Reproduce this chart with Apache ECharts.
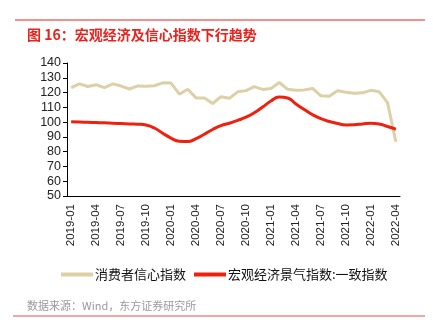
<!DOCTYPE html>
<html><head><meta charset="utf-8">
<script src="https://cdn.jsdelivr.net/npm/echarts@6/dist/echarts.min.js"></script>
<style>html,body{margin:0;padding:0;background:#fff}#c{width:433px;height:325px}</style>
</head><body><div id="c"></div>
<script>
const months = [
 '2019-01','2019-02','2019-03','2019-04','2019-05','2019-06','2019-07','2019-08','2019-09','2019-10','2019-11','2019-12',
 '2020-01','2020-02','2020-03','2020-04','2020-05','2020-06','2020-07','2020-08','2020-09','2020-10','2020-11','2020-12',
 '2021-01','2021-02','2021-03','2021-04','2021-05','2021-06','2021-07','2021-08','2021-09','2021-10','2021-11','2021-12',
 '2022-01','2022-02','2022-03','2022-04'];
const consumerConfidence = [
 123.3,125.9,124.1,125.3,123.3,125.9,124.4,122.4,124.5,124.3,124.6,126.6,
 126.4,118.9,122.2,116.4,116.4,112.6,117.2,116.1,120.5,121.3,124.0,122.1,
 122.8,126.8,122.2,121.5,121.8,122.8,117.8,117.5,121.2,120.2,119.5,119.8,
 121.5,120.5,113.2,86.7];
const coincidentIndex = [
 100.2,100.1,99.9,99.7,99.5,99.2,99.0,98.8,98.6,98.0,96.0,92.5,
 89.2,87.0,86.8,88.8,91.8,95.0,97.6,99.2,101.2,103.3,106.3,110.2,
 114.3,117.0,116.3,112.3,108.5,105.0,102.3,100.4,99.0,98.1,98.2,98.8,
 99.2,98.7,97.0,95.2];
const seriesNames = ['消费者信心指数','宏观经济景气指数:一致指数'];
const yTicks = {min:50, max:140, interval:10};

const chart = echarts.init(document.getElementById('c'));
const font = '"Liberation Sans", Arial, sans-serif';
const cjk = '"Noto Sans CJK SC", sans-serif';
chart.setOption({
  animation:false,
  title:[{
    text:'图 16：宏观经济及信心指数下行趋势', left:22, top:23,
    textStyle:{color:'#E8231E', fontSize:14, fontWeight:'bold', fontFamily:cjk}
  },{
    text:'数据来源：Wind，东方证券研究所', left:22, top:295,
    textStyle:{color:'#9a9a9a', fontSize:11, fontWeight:'normal', fontFamily:cjk}
  }],
  graphic:[
    {type:'line', shape:{x1:15,y1:20,x2:425,y2:20}, style:{stroke:'#E8231E', lineWidth:1}},
    {type:'line', shape:{x1:13,y1:316,x2:425,y2:316}, style:{stroke:'#EE8A86', lineWidth:1.5}}
  ],
  legend:{
    left:56, top:263, itemWidth:32, itemHeight:4, itemGap:8, icon:'rect',
    textStyle:{fontSize:13, color:'#111', fontFamily:cjk, padding:[0,0,0,-3]},
    data:seriesNames
  },
  grid:{left:67, right:33, top:63, bottom:129, containLabel:false},
  xAxis:{
    type:'category', data:months, boundaryGap:true,
    axisLine:{lineStyle:{color:'#000', width:1}},
    axisTick:{interval:2, length:4, lineStyle:{color:'#000'}},
    axisLabel:{interval:2, rotate:90, fontSize:11.5, color:'#222', fontFamily:font, margin:8}
  },
  yAxis:{
    type:'value', min:yTicks.min, max:yTicks.max, interval:yTicks.interval,
    splitLine:{show:false},
    axisLine:{show:true, lineStyle:{color:'#000', width:1}},
    axisTick:{show:true, length:4, lineStyle:{color:'#000'}},
    axisLabel:{fontSize:12.5, color:'#222', fontFamily:font, margin:6}
  },
  series:[
    {name:seriesNames[0], type:'line', data:consumerConfidence, symbol:'none',
     lineStyle:{color:'#DDD0A6', width:3}, itemStyle:{color:'#DDD0A6'}},
    {name:seriesNames[1], type:'line', data:coincidentIndex, symbol:'none', smooth:0.5,
     lineStyle:{color:'#F0200E', width:3}, itemStyle:{color:'#F0200E'}}
  ]
});
</script></body></html>
